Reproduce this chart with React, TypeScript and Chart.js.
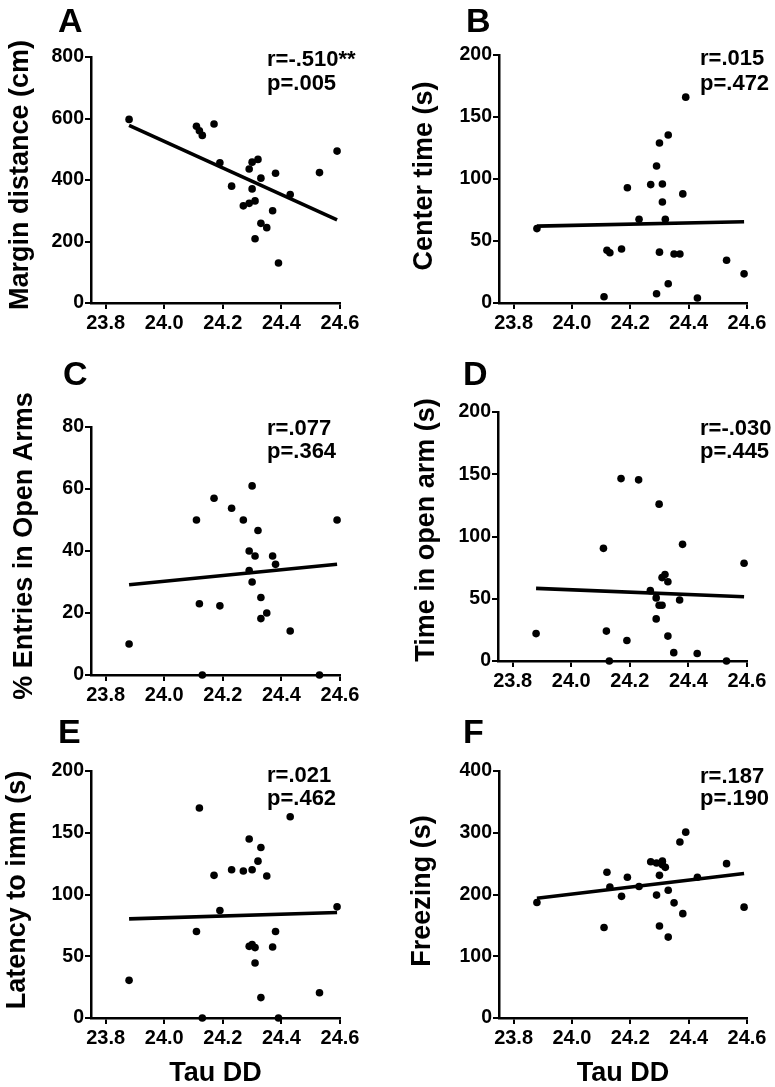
import React, { useEffect, useRef } from "react";
import { Chart, registerables } from "chart.js";

Chart.register(...registerables);

const W = 775;
const H = 1087;
const FONT = "'Liberation Sans', Arial, Helvetica, sans-serif";

// Shared predictor (x) for every panel
const tauDD = [
  23.88, 24.11, 24.12, 24.13, 24.17, 24.19, 24.23, 24.27, 24.29, 24.29, 24.3, 24.3,
  24.31, 24.31, 24.32, 24.33, 24.33, 24.35, 24.37, 24.38, 24.39, 24.43, 24.53, 24.59,
];

// Panel values (null = point not visible in the figure)
const marginDistance = [
  597, 575, 560, 545, 582, 456, 380, 316, 436, 324, 458, 371,
  332, 209, 467, 406, 259, 245, 300, 422, 130, 353, 424, 494,
];
const centerTime = [
  60, 5, 42.5, 40.5, 43.5, 93, 67.5, 95.5, 110.5, 7.5, 129, 41,
  96, 81.5, 67.5, 135.5, 15.5, 39.5, 39.5, 88, 166, 4, 34.5, 23.5,
];
const entriesOpenArms = [
  10, 50, 23, 0, 57, 22.3, 53.8, 50, 40, 33.7, 61, 30,
  38.4, null, 46.6, 25, 18.2, 20, 38.4, 35.7, null, 14.2, 0, 50,
];
const timeOpenArm = [
  22, 90.5, 24, 0, 146.5, 16.5, 145.5, 56.5, 50.7, 33.8, 126, 44.8,
  44.8, 67, 69.5, 63.6, 20, 6.7, 49, 93.7, null, 6, 0, 78.5,
];
const latencyImm = [
  30.5, 70, 170, 0, 115.5, 87, 120, 119, 145, 58, 120, 59.5,
  57, 44.5, 127, 138, 16.5, 115, 57.5, 70, 0, 163, 20.5, 90,
];
const freezing = [
  187, 146.5, 236, 212, 197, 228, 213, 253, 251, 199, 231, 149,
  254, 248, 244, 207, 131, 186.5, 285, 169, 301, 228, 250, 179.5,
];

// Regression line end points (at fitX)
const fitX = [23.88, 24.59];
const fitMargin = [578, 270];
const fitCenter = [62, 65.5];
const fitEntries = [29.1, 35.7];
const fitOpenArm = [58.3, 51.6];
const fitLatency = [80.3, 85.4];
const fitFreezing = [194, 234];

const xTicks = [23.8, 24.0, 24.2, 24.4, 24.6];

type Panel = {
  letter: string;
  yTitle: string;
  yMax: number;
  yStep: number;
  values: (number | null)[];
  fit: number[];
  r: string;
  p: string;
  area: { l: number; t: number; r: number; b: number };
  letterPos: [number, number];
  statPos: [number, number, number];
  yTitlePos: [number, number];
  xTitle: boolean;
};

const panels: Panel[] = [
  {
    letter: "A", yTitle: "Margin distance (cm)", yMax: 800, yStep: 200,
    values: marginDistance, fit: fitMargin, r: "r=-.510**", p: "p=.005",
    area: { l: 91, t: 57, r: 340, b: 303 }, letterPos: [58, 32], statPos: [267, 66, 90],
    yTitlePos: [21, 175], xTitle: false,
  },
  {
    letter: "B", yTitle: "Center time (s)", yMax: 200, yStep: 50,
    values: centerTime, fit: fitCenter, r: "r=.015", p: "p=.472",
    area: { l: 499, t: 55, r: 747, b: 303 }, letterPos: [466, 32], statPos: [700, 65, 90],
    yTitlePos: [425, 176], xTitle: false,
  },
  {
    letter: "C", yTitle: "% Entries in Open Arms", yMax: 80, yStep: 20,
    values: entriesOpenArms, fit: fitEntries, r: "r=.077", p: "p=.364",
    area: { l: 91, t: 427, r: 340, b: 675 }, letterPos: [63, 385], statPos: [267, 435, 458],
    yTitlePos: [25, 546], xTitle: false,
  },
  {
    letter: "D", yTitle: "Time in open arm (s)", yMax: 200, yStep: 50,
    values: timeOpenArm, fit: fitOpenArm, r: "r=-.030", p: "p=.445",
    area: { l: 498, t: 412, r: 747, b: 661 }, letterPos: [463, 385], statPos: [700, 435, 458],
    yTitlePos: [427, 530], xTitle: false,
  },
  {
    letter: "E", yTitle: "Latency to imm (s)", yMax: 200, yStep: 50,
    values: latencyImm, fit: fitLatency, r: "r=.021", p: "p=.462",
    area: { l: 91, t: 771, r: 340, b: 1018 }, letterPos: [58, 743], statPos: [267, 782, 805],
    yTitlePos: [18, 890], xTitle: true,
  },
  {
    letter: "F", yTitle: "Freezing (s)", yMax: 400, yStep: 100,
    values: freezing, fit: fitFreezing, r: "r=.187", p: "p=.190",
    area: { l: 499, t: 771, r: 747, b: 1018 }, letterPos: [463, 743], statPos: [700, 783, 805],
    yTitlePos: [423, 891], xTitle: true,
  },
];

const textPlugin = (panel: Panel) => ({
  id: "panelText" + panel.letter,
  afterDraw(chart: any) {
    const ctx = chart.ctx as CanvasRenderingContext2D;
    const a = chart.chartArea;
    ctx.save();
    ctx.fillStyle = "#000";
    ctx.textAlign = "left";
    ctx.textBaseline = "alphabetic";
    ctx.font = `bold 34px ${FONT}`;
    ctx.fillText(panel.letter, panel.letterPos[0], panel.letterPos[1]);
    ctx.font = `bold 22px ${FONT}`;
    ctx.fillText(panel.r, panel.statPos[0], panel.statPos[1]);
    ctx.fillText(panel.p, panel.statPos[0], panel.statPos[2]);
    if (panel.xTitle) {
      ctx.font = `bold 27px ${FONT}`;
      ctx.textAlign = "center";
      ctx.textBaseline = "middle";
      ctx.fillText("Tau DD", (a.left + a.right) / 2, 1074);
    }
    ctx.translate(panel.yTitlePos[0], panel.yTitlePos[1]);
    ctx.rotate(-Math.PI / 2);
    ctx.font = `bold 27px ${FONT}`;
    ctx.textAlign = "center";
    ctx.textBaseline = "middle";
    ctx.fillText(panel.yTitle, 0, 0);
    ctx.restore();
  },
});

const YW = 80;
const XH = 40;

function PanelChart({ panel }: { panel: Panel }) {
  const ref = useRef<HTMLCanvasElement>(null);
  useEffect(() => {
    if (!ref.current) return;
    const { l, t, r, b } = panel.area;
    const grid = { drawOnChartArea: false, drawTicks: true, tickLength: 6, color: "#000", lineWidth: 2 };
    const border = { display: true, color: "#000", width: 2.5 };
    const chart = new Chart(ref.current, {
      type: "scatter",
      data: {
        datasets: [
          {
            data: tauDD
              .map((x, i) => ({ x, y: panel.values[i] }))
              .filter((d) => d.y !== null) as any,
            showLine: false,
            pointRadius: 3.8,
            pointBackgroundColor: "#000",
            pointBorderColor: "#000",
            pointBorderWidth: 0,
            clip: false as any,
          },
          {
            data: fitX.map((x, i) => ({ x, y: panel.fit[i] })),
            showLine: true,
            borderColor: "#000",
            borderWidth: 3.6,
            pointRadius: 0,
            clip: false as any,
          },
        ],
      },
      options: {
        animation: false,
        responsive: false,
        maintainAspectRatio: false,
        devicePixelRatio: 1,
        events: [],
        layout: { padding: { left: l - YW, top: t, right: W - r, bottom: H - b - XH } },
        plugins: { legend: { display: false }, tooltip: { enabled: false } },
        scales: {
          x: {
            type: "linear",
            min: 23.75,
            max: 24.6,
            afterBuildTicks: (s: any) => {
              s.ticks = xTicks.map((v) => ({ value: v }));
            },
            afterFit: (s: any) => {
              s.height = XH;
            },
            ticks: {
              callback: (v: any) => Number(v).toFixed(1),
              font: { family: FONT, size: 20, weight: "bold" as const },
              color: "#000",
              padding: 2,
              maxRotation: 0,
              autoSkip: false,
            },
            grid,
            border,
          },
          y: {
            type: "linear",
            min: 0,
            max: panel.yMax,
            afterFit: (s: any) => {
              s.width = YW;
            },
            ticks: {
              stepSize: panel.yStep,
              font: { family: FONT, size: 19.5, weight: "bold" as const },
              color: "#000",
              padding: 1,
            },
            grid,
            border,
          },
        },
      },
      plugins: [textPlugin(panel)],
    });
    return () => chart.destroy();
  }, [panel]);
  return (
    <canvas
      ref={ref}
      width={W}
      height={H}
      style={{ position: "absolute", left: 0, top: 0, width: W, height: H }}
    />
  );
}

export default function App() {
  return (
    <div
      style={{
        position: "absolute",
        left: 0,
        top: 0,
        width: W,
        height: H,
        background: "#fff",
        overflow: "hidden",
      }}
    >
      {panels.map((p) => (
        <PanelChart key={p.letter} panel={p} />
      ))}
    </div>
  );
}
